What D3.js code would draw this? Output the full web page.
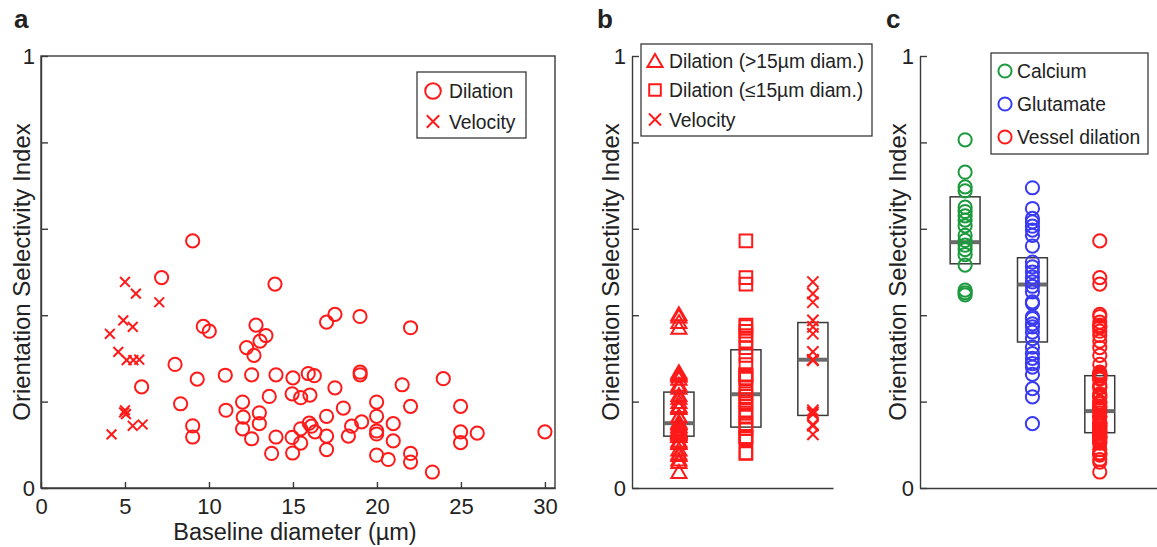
<!DOCTYPE html>
<html>
<head>
<meta charset="utf-8">
<script src="https://cdn.jsdelivr.net/npm/d3@7"></script>
<style>
  html, body { margin: 0; padding: 0; background: #fff; }
  svg { display: block; }
  text { font-family: "Liberation Sans", Arial, Helvetica, sans-serif; fill: #222; }
</style>
</head>
<body>
<svg id="fig" width="1157" height="547"></svg>
<script>
// ---- Vessel dilation: baseline diameter (µm) and orientation selectivity index ----
const dilationDiameter = [
  7.18, 9.03, 13.93, 9.66, 10.02, 12.8, 13.39, 13.04, 12.24, 12.68,
  7.98, 9.3, 10.97, 12.54, 13.99, 15.0, 5.99, 13.59, 14.95, 8.31,
  12.0, 11.01, 12.04, 13.0, 13.0, 12.0, 9.03, 9.03, 12.54, 13.99,
  13.73, 14.95, 14.98, 17.0, 17.5, 18.99, 22.0, 15.91, 16.27, 19.0,
  19.0, 23.95, 17.5, 21.5, 15.46, 16.01, 18.0, 19.98, 22.0, 24.98,
  17.0, 19.98, 20.97, 19.09, 18.49, 15.97, 16.1, 15.46, 16.31, 18.3,
  17.0, 19.98, 19.98, 20.97, 24.98, 25.97, 24.98, 30.0, 15.46, 17.0,
  19.98, 20.67, 22.0, 22.0, 23.3
];
const dilationOSI = [
  0.487, 0.572, 0.472, 0.374, 0.363, 0.377, 0.353, 0.340, 0.325, 0.307,
  0.286, 0.252, 0.261, 0.262, 0.262, 0.255, 0.234, 0.212, 0.218, 0.195,
  0.199, 0.180, 0.164, 0.174, 0.149, 0.137, 0.144, 0.118, 0.114, 0.118,
  0.080, 0.117, 0.081, 0.384, 0.402, 0.397, 0.371, 0.265, 0.260, 0.268,
  0.262, 0.253, 0.232, 0.239, 0.209, 0.215, 0.185, 0.199, 0.189, 0.189,
  0.166, 0.166, 0.149, 0.153, 0.143, 0.150, 0.143, 0.137, 0.130, 0.120,
  0.120, 0.132, 0.125, 0.109, 0.130, 0.127, 0.105, 0.130, 0.104, 0.089,
  0.076, 0.066, 0.080, 0.060, 0.037
];

// ---- Blood velocity ----
const velocityDiameter = [
  5.0, 5.65, 7.04, 4.9, 5.46, 4.1, 4.6, 5.1, 5.5, 5.85,
  5.0, 5.06, 4.95, 5.46, 6.05, 4.2
];
const velocityOSI = [
  0.477, 0.450, 0.430, 0.388, 0.373, 0.357, 0.315, 0.296, 0.296, 0.297,
  0.180, 0.171, 0.175, 0.144, 0.147, 0.124
];

// ---- Neuronal calcium and glutamate signals ----
const calciumOSI = [
  0.806, 0.731, 0.697, 0.688, 0.650, 0.640, 0.630, 0.620, 0.607, 0.585,
  0.573, 0.562, 0.552, 0.540, 0.516, 0.458, 0.452, 0.447
];
const glutamateOSI = [
  0.695, 0.647, 0.624, 0.616, 0.606, 0.597, 0.585, 0.560, 0.523, 0.512,
  0.500, 0.488, 0.477, 0.467, 0.454, 0.431, 0.427, 0.396, 0.392, 0.380,
  0.373, 0.361, 0.346, 0.326, 0.311, 0.300, 0.288, 0.280, 0.263, 0.230,
  0.211, 0.149
];

// ---- Box summaries (lower edge, median, upper edge) ----
const groupBLabels = ["Dilation (>15µm diam.)", "Dilation (≤15µm diam.)", "Velocity"];
const groupBBoxLow = [0.120, 0.141, 0.168];
const groupBBoxMedian = [0.150, 0.217, 0.297];
const groupBBoxHigh = [0.222, 0.320, 0.383];

const groupCLabels = ["Calcium", "Glutamate", "Vessel dilation"];
const groupCBoxLow = [0.519, 0.338, 0.128];
const groupCBoxMedian = [0.569, 0.471, 0.178];
const groupCBoxHigh = [0.674, 0.533, 0.260];

// ---- Ticks ----
const osiTicks = [0, 0.2, 0.4, 0.6, 0.8, 1];
const osiTickLabels = ["0", "", "", "", "", "1"];
const diameterTicks = [0, 5, 10, 15, 20, 25, 30];
const sizeThreshold = 15;

// ---------------------------------------------------------------
const RED = "#ff1a1a", GREEN = "#1c9a3e", BLUE = "#3a3af2";
const AXIS = "#3a3a3a";
const svg = d3.select("#fig");

const y = d3.scaleLinear().domain([0, 1]).range([488, 56]);

function markerPath(type, s) {
  if (type === "circle") {
    const p = d3.path(); p.moveTo(s, 0); p.arc(0, 0, s, 0, 2 * Math.PI); p.closePath(); return p.toString();
  }
  if (type === "square") return `M${-s},${-s}H${s}V${s}H${-s}Z`;
  if (type === "triangle") return `M0,${-s}L${s * 1.08},${s * 0.85}H${-s * 1.08}Z`;
  if (type === "x") return `M${-s},${-s}L${s},${s}M${-s},${s}L${s},${-s}`;
}

function drawMarkers(g, pts, type, size, color) {
  g.append("g").selectAll("path").data(pts).join("path")
    .attr("transform", d => `translate(${d[0]},${d[1]})`)
    .attr("d", markerPath(type, size))
    .attr("fill", "none").attr("stroke", color).attr("stroke-width", 2);
}

function yAxis(g, x0) {
  const ax = d3.axisLeft(y).tickValues(osiTicks).tickSize(-7).tickSizeOuter(0).tickPadding(6)
    .tickFormat((d, i) => osiTickLabels[i]);
  const a = g.append("g").attr("transform", `translate(${x0},0)`).call(ax);
  a.selectAll("path, line").attr("stroke", AXIS).attr("stroke-width", 1.4);
  a.selectAll("text").attr("font-size", 22).attr("fill", "#222")
    .style("font-family", '"Liberation Sans", Arial, sans-serif');
  return a;
}

function yTitle(g, xb) {
  g.append("text").attr("transform", `translate(${xb},${(y(0) + y(1)) / 2}) rotate(-90)`)
    .attr("text-anchor", "middle").attr("font-size", 24).text("Orientation Selectivity Index");
}

function panelLetter(g, x, t) {
  g.append("text").attr("x", x).attr("y", 28).attr("font-size", 26).attr("font-weight", "bold").text(t);
}

function legend(g, box, rows) {
  g.append("rect").attr("x", box.x).attr("y", box.y).attr("width", box.w).attr("height", box.h)
    .attr("fill", "#fff").attr("stroke", AXIS).attr("stroke-width", 1.3);
  rows.forEach(r => {
    g.append("path").attr("transform", `translate(${box.mx},${r.cy})`)
      .attr("d", markerPath(r.type, r.size)).attr("fill", "none").attr("stroke", r.color).attr("stroke-width", 2);
    g.append("text").attr("x", box.tx).attr("y", r.cy + 7).attr("font-size", 19.3).text(r.label);
  });
}

function boxes(g, x, low, high, halfW) {
  low.forEach((lo, i) => {
    const c = i + 1;
    g.append("rect").attr("x", x(c - halfW)).attr("y", y(high[i]))
      .attr("width", x(c + halfW) - x(c - halfW)).attr("height", y(lo) - y(high[i]))
      .attr("fill", "none").attr("stroke", AXIS).attr("stroke-width", 1.5);
  });
}
function medians(g, x, med, halfW) {
  med.forEach((m, i) => {
    const c = i + 1;
    g.append("line").attr("x1", x(c - halfW)).attr("x2", x(c + halfW)).attr("y1", y(m)).attr("y2", y(m))
      .attr("stroke", "#6a6a6a").attr("stroke-width", 4);
  });
}

// ======================= Panel a =======================
{
  const g = svg.append("g");
  const x = d3.scaleLinear().domain([0, 30.6]).range([41, 555]);
  g.append("rect").attr("x", x(0)).attr("y", y(1)).attr("width", x(30.6) - x(0)).attr("height", y(0) - y(1))
    .attr("fill", "none").attr("stroke", AXIS).attr("stroke-width", 1.4);
  yAxis(g, x(0));
  const bx = d3.axisBottom(x).tickValues(diameterTicks).tickSize(-6).tickSizeOuter(0).tickPadding(10);
  const b = g.append("g").attr("transform", `translate(0,${y(0)})`).call(bx);
  b.selectAll("path, line").attr("stroke", AXIS).attr("stroke-width", 1.4);
  b.selectAll("text").attr("font-size", 22).attr("fill", "#222")
    .style("font-family", '"Liberation Sans", Arial, sans-serif');

  drawMarkers(g, dilationDiameter.map((d, i) => [x(d), y(dilationOSI[i])]), "circle", 6.6, RED);
  drawMarkers(g, velocityDiameter.map((d, i) => [x(d), y(velocityOSI[i])]), "x", 4.9, RED);

  g.append("text").attr("x", 295).attr("y", 540).attr("text-anchor", "middle").attr("font-size", 23.5)
    .text("Baseline diameter (µm)");
  yTitle(g, 30);
  panelLetter(g, 14, "a");
  legend(g, { x: 417, y: 72, w: 109, h: 66, mx: 433, tx: 449 }, [
    { type: "circle", size: 7.8, color: RED, label: "Dilation", cy: 91 },
    { type: "x", size: 6.2, color: RED, label: "Velocity", cy: 121.5 }
  ]);
}

// ======================= Panel b =======================
{
  const g = svg.append("g");
  const x = d3.scaleLinear().domain([0.3, 3.3]).range([632, 833]);
  yAxis(g, x(0.3));
  const bx = d3.axisBottom(x).tickValues([]).tickSizeOuter(0);
  const b = g.append("g").attr("transform", `translate(0,${y(0)})`).call(bx);
  b.selectAll("path").attr("stroke", AXIS).attr("stroke-width", 1.4);

  const halfW = 0.225;
  boxes(g, x, groupBBoxLow, groupBBoxHigh, halfW);
  medians(g, x, groupBBoxMedian, halfW);

  const large = dilationOSI.filter((v, i) => dilationDiameter[i] > sizeThreshold);
  const small = dilationOSI.filter((v, i) => dilationDiameter[i] <= sizeThreshold);
  drawMarkers(g, large.map(v => [x(1), y(v)]), "triangle", 7, RED);
  drawMarkers(g, small.map(v => [x(2), y(v)]), "square", 6.3, RED);
  drawMarkers(g, velocityOSI.map(v => [x(3), y(v)]), "x", 5.6, RED);

  yTitle(g, 619);
  panelLetter(g, 597, "b");
  legend(g, { x: 641, y: 44, w: 231, h: 92, mx: 655, tx: 669 }, [
    { type: "triangle", size: 7, color: RED, label: groupBLabels[0], cy: 61 },
    { type: "square", size: 5.8, color: RED, label: groupBLabels[1], cy: 90 },
    { type: "x", size: 6, color: RED, label: groupBLabels[2], cy: 119.5 }
  ]);
}

// ======================= Panel c =======================
{
  const g = svg.append("g");
  const x = d3.scaleLinear().domain([0.33, 3.85]).range([920, 1157]);
  yAxis(g, x(0.33));
  const bx = d3.axisBottom(x).tickValues([]).tickSizeOuter(0);
  const b = g.append("g").attr("transform", `translate(0,${y(0)})`).call(bx);
  b.selectAll("path").attr("stroke", AXIS).attr("stroke-width", 1.4);

  const halfW = 0.222;
  boxes(g, x, groupCBoxLow, groupCBoxHigh, halfW);
  medians(g, x, groupCBoxMedian, halfW);

  drawMarkers(g, calciumOSI.map(v => [x(1), y(v)]), "circle", 6.6, GREEN);
  drawMarkers(g, glutamateOSI.map(v => [x(2), y(v)]), "circle", 6.6, BLUE);
  drawMarkers(g, dilationOSI.map(v => [x(3), y(v)]), "circle", 6.6, RED);

  yTitle(g, 906);
  panelLetter(g, 886, "c");
  legend(g, { x: 991, y: 53, w: 157, h: 101, mx: 1005, tx: 1017 }, [
    { type: "circle", size: 6.6, color: GREEN, label: groupCLabels[0], cy: 71 },
    { type: "circle", size: 6.6, color: BLUE, label: groupCLabels[1], cy: 104 },
    { type: "circle", size: 6.6, color: RED, label: groupCLabels[2], cy: 137 }
  ]);
}
</script>
</body>
</html>
